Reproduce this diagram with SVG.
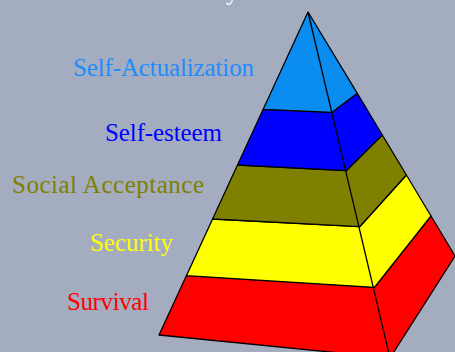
<svg xmlns="http://www.w3.org/2000/svg" width="455" height="352" viewBox="0 0 455 352">
  <style>
    .lbl { font-family: "Liberation Serif", "Times New Roman", serif; font-size: 25px; }
    .band { stroke: #000; stroke-width: 1.3; stroke-linejoin: round; }
  </style>
  <rect x="0" y="0" width="455" height="352" fill="#A3ADBF"/>
  <text class="lbl" x="226" y="-0.5" fill="#FFFFFF">y</text>

  <g id="pyramid">
    <g id="level-survival">
      <polygon class="band" fill="#FF0000" points="186.4,275.7 374.4,287.3 431,216 455,256 390,358 159,335"/>
    </g>
    <g id="level-security">
      <polygon class="band" fill="#FFFF00" points="212.6,219 359.7,226.7 406.4,175 431,216 374.4,287.3 186.4,275.7"/>
    </g>
    <g id="level-social">
      <polygon class="band" fill="#808000" points="237.5,165 346.2,170.7 382.3,135 406.4,175 359.7,226.7 212.6,219"/>
    </g>
    <g id="level-esteem">
      <polygon class="band" fill="#0000FF" points="263.2,109.3 332,112.3 357.3,93.3 382.3,135 346.2,170.7 237.5,165"/>
    </g>
    <g id="level-actualization">
      <polygon class="band" fill="#0A8CF0" points="308,12 357.3,93.3 332,112.3 263.2,109.3"/>
    </g>
  </g>
  <g id="connectors">
    <line x1="308" y1="12" x2="390" y2="358" stroke="#000" stroke-width="1.3"/>
  </g>

  <g id="labels">
    <g id="label-actualization"><text class="lbl" x="73" y="75.5" fill="#1E8CFF" textLength="181" lengthAdjust="spacing">Self-Actualization</text></g>
    <g id="label-esteem"><text class="lbl" x="105" y="140.5" fill="#0000FF" textLength="117" lengthAdjust="spacing">Self-esteem</text></g>
    <g id="label-social"><text class="lbl" x="12" y="193.3" fill="#808000" textLength="192" lengthAdjust="spacing">Social Acceptance</text></g>
    <g id="label-security"><text class="lbl" x="90" y="250.5" fill="#FFFF00" textLength="83" lengthAdjust="spacing">Security</text></g>
    <g id="label-survival"><text class="lbl" x="67" y="309.5" fill="#FF0000" textLength="82" lengthAdjust="spacing">Survival</text></g>
  </g>
</svg>
